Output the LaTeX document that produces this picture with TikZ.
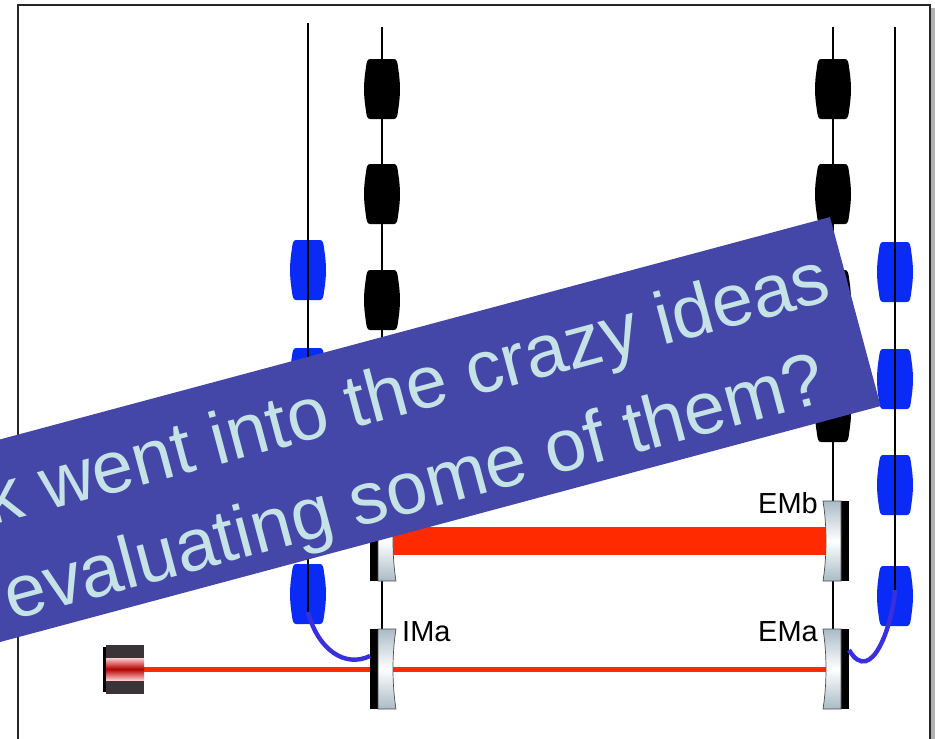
\documentclass[tikz,border=0pt]{standalone}
\usepackage{fontspec}
\setmainfont{Liberation Sans}
\definecolor{massblue}{HTML}{0A2BF5}
\definecolor{fibre}{HTML}{3A2FE0}
\definecolor{beam}{HTML}{FF2A00}
\definecolor{bannerblue}{HTML}{4547A8}
\definecolor{bannertext}{HTML}{C5E3E6}
\definecolor{glass}{HTML}{A9BBC6}
\definecolor{housing}{HTML}{3A3338}
\tikzset{
  x=1pt,y=-1pt,
  wire/.style={black,line width=1.6pt},
  fibreline/.style={fibre,line width=4.4pt},
  barrelmass/.pic={
    \fill[pic actions] (-12,-30) -- (12,-30)
      .. controls (15,-30) and (15.5,-26) .. (16,-22)
      .. controls (17.5,-12) and (18,-6) .. (18,0)
      .. controls (18,6) and (17.5,12) .. (16,22)
      .. controls (15.5,26) and (15,30) .. (12,30)
      -- (-12,30)
      .. controls (-15,30) and (-15.5,26) .. (-16,22)
      .. controls (-17.5,12) and (-18,6) .. (-18,0)
      .. controls (-18,-6) and (-17.5,-12) .. (-16,-22)
      .. controls (-15.5,-26) and (-15,-30) .. (-12,-30) -- cycle;
  },
  mirrorleft/.pic={
    \fill[black] (-12,-40) rectangle (-4,40);
    \shade[top color=glass,bottom color=glass,middle color=white,draw=black!70,line width=.7pt]
      (-4,-40) -- (14,-40) .. controls (10,-15) and (10,15) .. (14,40) -- (-4,40) -- cycle;
  },
  mirrorright/.pic={
    \fill[black] (8,-40) rectangle (16,40);
    \shade[top color=glass,bottom color=glass,middle color=white,draw=black!70,line width=.7pt]
      (8,-40) -- (-10,-40) .. controls (-6,-15) and (-6,15) .. (-10,40) -- (8,40) -- cycle;
  },
  bannerline/.style={text=bannertext,font=\fontsize{74}{74}\selectfont,rotate=15,anchor=base east,inner sep=0pt},
  mirrorlabel/.style={font=\fontsize{29}{30}\selectfont,inner sep=0pt},
}
\begin{document}
\begin{tikzpicture}
\useasboundingbox (0,0) rectangle (935,739);
\clip (0,0) rectangle (935,739);
\fill[white] (0,0) rectangle (935,739);

% slide frame with its soft shadow on the right
\fill[black!30] (930,8) rectangle (935,739);
\fill[white] (18,5) rectangle (930,745);
\draw[black!85,line width=1.6pt] (18,745) -- (18,5) -- (930,5) -- (930,745);

% suspension points and mirror attachment points
\coordinate (outerLtop) at (308,23);
\coordinate (outerLend) at (308,612);
\coordinate (innerLtop) at (382,27);
\coordinate (innerLend) at (382,630);
\coordinate (innerRtop) at (833,27);
\coordinate (innerRend) at (833,630);
\coordinate (outerRtop) at (895,27);
\coordinate (outerRend) at (895,590);

% beams
\fill[beam] (393,527) rectangle (827,555);
\fill[beam] (144,666.5) rectangle (827,671.5);

% reaction and test chains, masses first so the outer wires run over them
\foreach \y in {270,378,485,594} \pic[massblue] at (308,\y) {barrelmass};
\foreach \y in {272,379,485,596} \pic[massblue] at (895,\y) {barrelmass};
\draw[wire] (innerLtop) -- (innerLend);
\draw[wire] (innerRtop) -- (innerRend);
\draw[wire] (outerLtop) -- (outerLend);
\draw[wire] (outerRtop) -- (outerRend);
\foreach \y in {89,194,300,408} {
  \pic[black] at (382,\y) {barrelmass};
  \pic[black] at (833,\y) {barrelmass};
}
\pic[black] at (833,412) {barrelmass};

% cavity mirrors
\pic at (382,541) {mirrorleft};
\pic at (382,669) {mirrorleft};
\pic at (833,541) {mirrorright};
\pic at (833,669) {mirrorright};

% fibres from the reaction chains to the mirrors
\draw[fibreline] (outerLend) .. controls (318,650) and (345,668) .. (370,656);
\draw[fibreline] (outerRend) .. controls (893,622) and (872,688) .. (849,650);

% laser source
\fill[black] (103,647) rectangle (106,692);
\fill[housing] (106,645) rectangle (144,694);
\shade[top color=white!80!red,bottom color=white!80!red,middle color=red!70!black] (106,658) rectangle (144,680);

% mirror labels
\node[mirrorlabel,anchor=base west] (ima) at (402,641) {IMa};
\node[mirrorlabel,anchor=base east] (ema) at (818,641) {EMa};
\node[mirrorlabel,anchor=base east] (emb) at (818,513) {EMb};

% slanted banner across the drawing
\node[fill=bannerblue,rotate=15,anchor=east,minimum width=1100pt,minimum height=195.7pt,inner sep=0pt] (banner) at (855.5,311.5) {};
\node[bannerline] (lineone) at (834,300) {k went into the crazy ideas};
\node[bannerline] (linetwo) at (830,401) {evaluating some of them?};
\end{tikzpicture}
\end{document}
